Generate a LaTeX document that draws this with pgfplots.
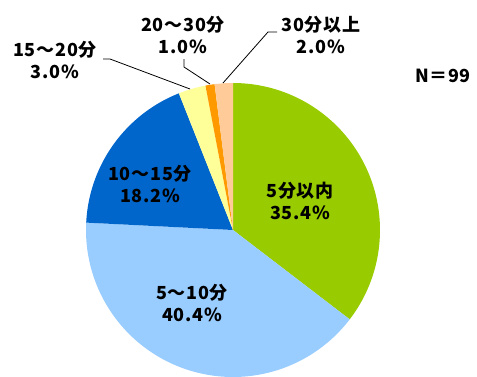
\documentclass[border=0pt]{standalone}
\usepackage{pgfplots}
\pgfplotsset{compat=1.18}
\usepackage{fontspec}
\setmainfont{Noto Sans CJK JP}
\definecolor{cA}{HTML}{99CC00}
\definecolor{cB}{HTML}{99CCFF}
\definecolor{cC}{HTML}{0066CC}
\definecolor{cD}{HTML}{FFFF99}
\definecolor{cE}{HTML}{FF9900}
\definecolor{cF}{HTML}{FFCC99}
\begin{document}
\begin{tikzpicture}
\begin{axis}[
  width=477pt, height=376pt, scale only axis,
  xmin=-233, xmax=244, ymin=-146, ymax=230,
  axis lines=box, axis line style={draw=none}, ticks=none, clip=true,
]
% values (percent): 35.4, 40.4, 18.2, 3.0, 1.0, 2.0 ; radius 147
\addplot[fill=cA, draw=none, domain={0}:{(35.4)*3.6}, samples=120] ({147*sin(x)},{147*cos(x)}) -- (0,0) -- cycle;
\addplot[fill=cB, draw=none, domain={(35.4)*3.6}:{(35.4+40.4)*3.6}, samples=120] ({147*sin(x)},{147*cos(x)}) -- (0,0) -- cycle;
\addplot[fill=cC, draw=none, domain={(35.4+40.4)*3.6}:{(35.4+40.4+18.2)*3.6}, samples=80] ({147*sin(x)},{147*cos(x)}) -- (0,0) -- cycle;
\addplot[fill=cD, draw=none, domain={(35.4+40.4+18.2)*3.6}:{(35.4+40.4+18.2+3.0)*3.6}, samples=20] ({147*sin(x)},{147*cos(x)}) -- (0,0) -- cycle;
\addplot[fill=cE, draw=none, domain={(35.4+40.4+18.2+3.0)*3.6}:{(35.4+40.4+18.2+3.0+1.0)*3.6}, samples=10] ({147*sin(x)},{147*cos(x)}) -- (0,0) -- cycle;
\addplot[fill=cF, draw=none, domain={(35.4+40.4+18.2+3.0+1.0)*3.6}:{(35.4+40.4+18.2+3.0+1.0+2.0)*3.6}, samples=10] ({147*sin(x)},{147*cos(x)}) -- (0,0) -- cycle;
% leader lines
\addplot[black, line width=0.8pt] coordinates {(-130,171) (-123,171) (-43,141)};
\addplot[black, line width=0.8pt] coordinates {(-49,171) (-49,163) (-23,146)};
\addplot[black, line width=0.8pt] coordinates {(44,198) (35,198) (-10,147)};
% labels
\tikzset{lab/.style={align=center, font=\fontsize{18}{21.5}\selectfont\bfseries\addfontfeature{LetterSpace=4}, inner sep=0pt}}
\node[lab] at (axis cs:67,29) {5分以内\\35.4\%};
\node[lab] at (axis cs:-41,-73) {5～10分\\40.4\%};
\node[lab] at (axis cs:-83,46) {10～15分\\18.2\%};
\node[lab] at (axis cs:-178,170) {15～20分\\3.0\%};
\node[lab] at (axis cs:-50,195) {20～30分\\1.0\%};
\node[lab] at (axis cs:88,195) {30分以上\\2.0\%};
\node[lab] at (axis cs:210,154) {N＝99};
\end{axis}
\end{tikzpicture}
\end{document}
